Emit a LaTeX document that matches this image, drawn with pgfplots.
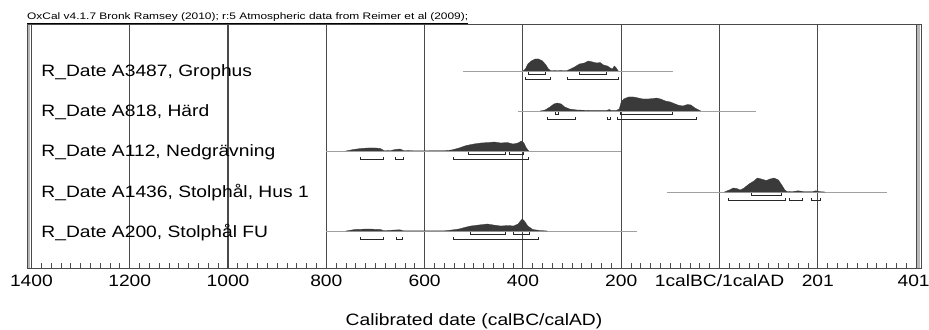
\documentclass[border=0pt]{standalone}
\usepackage{fontspec}
\setmainfont{Liberation Sans}
\usepackage{graphicx}
\usepackage{pgfplots}
\pgfplotsset{compat=1.18}
\definecolor{gridc}{HTML}{4A4A4A}
\definecolor{basec}{HTML}{A0A0A0}
\definecolor{distc}{HTML}{3A3A3A}
\definecolor{bandc}{HTML}{B8B8B8}
\newcommand{\sx}[1]{\scalebox{1.17}[1]{#1}}
\newcommand{\fs}{\fontsize{16.5}{18}\selectfont}
\begin{document}
\begin{tikzpicture}[x=1bp,y=1bp]
\useasboundingbox (0,0) rectangle (929,329);
\begin{axis}[
  at={(27bp,61bp)}, anchor=south west,
  scale only axis, width=894bp, height=243bp,
  xmin=-1409, xmax=410, ymin=61, ymax=304,
  clip=false,
  axis line style={draw=gridc, line width=1bp},
  xtick={-1400,-1200,...,400},
  xticklabels={\sx{1400},\sx{1200},\sx{1000},\sx{800},\sx{600},\sx{400},\sx{200},\sx{1calBC/1calAD},\sx{201},\hspace*{-5bp}\sx{401}},
  xticklabel style={font=\fs, anchor=base, inner sep=0pt, yshift=-18bp},
  ytick=\empty,
  minor x tick num=9,
  xmajorgrids,
  major grid style={draw=gridc, line width=1.1bp},
  major tick length=0pt, minor tick length=5bp,
  tick align=inside, xtick pos=left,
  minor tick style={draw=gridc, line width=0.8bp},
  xlabel={\sx{Calibrated date (calBC/calAD)}},
  xlabel style={font=\fs, at={(axis description cs:0.5,0)}, anchor=base, inner sep=0pt, yshift=-57bp},
  unbounded coords=jump,
]
% frame bands
\fill[bandc] (axis cs:-1407.5,61) rectangle (axis cs:-1402.5,304);
\fill[bandc] (axis cs:402.5,61) rectangle (axis cs:408.5,304);

% baselines
\addplot[basec, line width=0.8bp] coordinates {(-522,258) (-95,258)};
\addplot[basec, line width=0.8bp] coordinates {(-409,218) (75,218)};
\addplot[basec, line width=0.8bp] coordinates {(-800,178) (-200,178)};
\addplot[basec, line width=0.8bp] coordinates {(-106,137) (340,137)};
\addplot[basec, line width=0.8bp] coordinates {(-800,98) (-167,98)};

% distributions
\addplot[fill=distc, draw=distc, line width=0.3bp] coordinates {
(-400,258) (-395,260) (-390,265) (-383,268) (-375,270) (-368,270) (-360,268) (-353,264) (-348,260) (-344,258.5) (-330,258.3) (-310,258.5) (-303,260) (-295,262) (-285,265) (-275,266) (-267,268) (-258,267) (-250,266) (-243,266.5) (-236,264) (-228,263) (-222,261) (-218,260) (-214,263) (-210,261) (-206,258)};
\addplot[fill=distc, draw=distc, line width=0.3bp] coordinates {
(-365,218) (-355,219) (-345,222) (-337,225) (-330,226) (-322,225) (-315,222) (-305,220) (-290,219) (-260,218.5) (-230,218.5) (-224,219.5) (-220,218.5) (-210,218.5) (-204,220) (-200,227) (-195,230) (-185,232) (-175,232) (-165,231) (-156,230) (-145,230) (-135,230.5) (-128,231) (-120,230) (-110,228) (-100,227) (-95,226) (-85,224) (-75,223) (-65,224.5) (-58,224) (-50,221) (-42,219) (-38,218)};
\addplot[fill=distc, draw=distc, line width=0.3bp] coordinates {
(-760,178) (-745,179.5) (-730,180.5) (-715,181) (-700,181) (-690,180.5) (-683,178.5) (-670,178.3) (-660,179.5) (-650,180) (-643,178.5) (-620,178.2) (-560,178.3) (-545,179) (-530,181) (-515,183.5) (-500,185) (-485,186) (-470,186.5) (-458,187) (-445,186) (-432,186.5) (-420,185) (-410,186) (-403,188) (-398,186) (-393,181) (-388,178)};
\addplot[fill=distc, draw=distc, line width=0.3bp] coordinates {
(10,137) (20,139) (28,141) (35,140.5) (42,139) (50,141) (60,145) (70,148) (77,151) (85,150) (95,148.5) (103,150) (111,151) (120,149) (128,143) (133,139) (138,137.3) (150,137.5) (160,138.2) (170,137.5) (190,137.5) (196,138.2) (205,137.3) (215,137)};
\addplot[fill=distc, draw=distc, line width=0.3bp] coordinates {
(-760,98) (-742,99.5) (-715,100) (-690,99.5) (-683,98.3) (-660,99) (-650,99.2) (-643,98.2) (-560,98.2) (-545,99) (-530,100) (-515,102) (-506,103) (-490,104) (-472,105) (-460,104) (-445,103) (-430,103.5) (-419,103) (-410,105) (-405,108) (-401,110) (-397,108) (-390,103) (-380,99.5) (-365,98.5) (-350,98)};

% ranges (68.2% upper, 95.4% lower)
\addplot[black!85, line width=0.9bp] coordinates {
(-388,257) (-388,254.5) (-354,254.5) (-354,257) (0,nan)
(-285,257) (-285,254.5) (-231,254.5) (-231,257) (0,nan)
(-394,252) (-394,249.5) (-344,249.5) (-344,252) (0,nan)
(-310,252) (-310,249.5) (-206,249.5) (-206,252)};
\addplot[black!85, line width=0.9bp] coordinates {
(-333,216.5) (-333,214.5) (-327,214.5) (-327,216.5) (0,nan)
(-202,217) (-202,214.5) (-95,214.5) (-95,217) (0,nan)
(-350,212) (-350,209.5) (-293,209.5) (-293,212) (0,nan)
(-229,212) (-229,209.5) (-222,209.5) (-222,212) (0,nan)
(-208,212) (-208,209.5) (-47,209.5) (-47,212)};
\addplot[black!85, line width=0.9bp] coordinates {
(-510,177) (-510,174.5) (-435,174.5) (-435,177) (0,nan)
(-427,177) (-427,174.5) (-399,174.5) (-399,177) (0,nan)
(-730,172) (-730,169.5) (-683,169.5) (-683,172) (0,nan)
(-660,172) (-660,169.5) (-644,169.5) (-644,172) (0,nan)
(-542,172) (-542,169.5) (-388,169.5) (-388,172)};
\addplot[black!85, line width=0.9bp] coordinates {
(64,136) (64,133.5) (127,133.5) (127,136) (0,nan)
(18,131) (18,128.5) (135,128.5) (135,131) (0,nan)
(142,131) (142,128.5) (168,128.5) (168,131) (0,nan)
(188,131) (188,128.5) (206,128.5) (206,131)};
\addplot[black!85, line width=0.9bp] coordinates {
(-506,97) (-506,94.5) (-435,94.5) (-435,97) (0,nan)
(-419,97) (-419,94.5) (-386,94.5) (-386,97) (0,nan)
(-730,92) (-730,89.5) (-683,89.5) (-683,92) (0,nan)
(-658,92) (-658,89.5) (-646,89.5) (-646,92) (0,nan)
(-542,92) (-542,89.5) (-368,89.5) (-368,92)};

% row labels
\node[anchor=base west, inner sep=0pt, font=\fs] at (axis cs:-1380,252) {\sx{R\_Date A3487, Grophus}};
\node[anchor=base west, inner sep=0pt, font=\fs] at (axis cs:-1380,212) {\sx{R\_Date A818, Härd}};
\node[anchor=base west, inner sep=0pt, font=\fs] at (axis cs:-1380,172) {\sx{R\_Date A112, Nedgrävning}};
\node[anchor=base west, inner sep=0pt, font=\fs] at (axis cs:-1380,132) {\sx{R\_Date A1436, Stolphål, Hus 1}};
\node[anchor=base west, inner sep=0pt, font=\fs] at (axis cs:-1380,92) {\sx{R\_Date A200, Stolphål FU}};

% title
\node[anchor=base west, inner sep=0pt] at (axis cs:-1409,309) {\resizebox{441bp}{\height}{\fontsize{9.5}{10}\selectfont\underline{OxCal v4.1.7 Bronk Ramsey (2010); r:5 Atmospheric data from Reimer et al (2009);}}};
\end{axis}
\end{tikzpicture}
\end{document}
